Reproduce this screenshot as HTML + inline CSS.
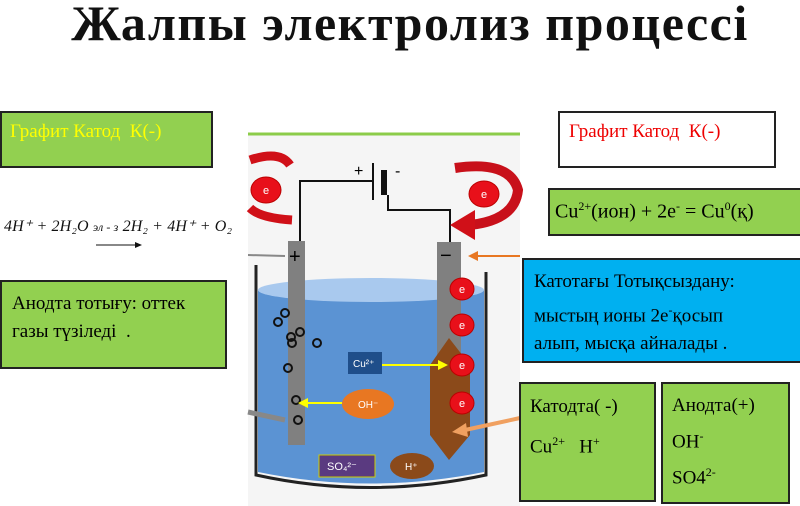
<!DOCTYPE html>
<html><head><meta charset="utf-8"><style>
body{margin:0;width:800px;height:506px;background:#fff;position:relative;overflow:hidden;font-family:"Liberation Serif",serif}
.b{position:absolute;box-sizing:border-box;border:2px solid #222;}
.g{background:#92d050}
sup{font-size:12px}
h1{position:absolute;left:0;width:820px;top:-6px;margin:0;text-align:center;font-size:50px;font-weight:bold;letter-spacing:1.5px;font-family:"Liberation Serif",serif;color:#111}
</style></head><body>
<h1>Жалпы электролиз процессі</h1>
<svg width="800" height="506" style="position:absolute;left:0;top:0">
<rect x="248" y="133" width="272" height="373" fill="#f5f5f5"/>
<line x1="248" y1="134" x2="520" y2="134" stroke="#8ccc4a" stroke-width="3"/>
<path d="M258 290 L484 290 L484 472 Q370 495 258 472 Z" fill="#5b93d3"/>
<ellipse cx="371" cy="290" rx="113" ry="12" fill="#a9c9ee"/>
<path d="M256 265 L256 475 Q370 500 486 475 L486 272" fill="none" stroke="#222" stroke-width="3"/>
<polyline points="300,241 300,181 372,181" fill="none" stroke="#111" stroke-width="2"/>
<polyline points="388,195 388,210 450,210 450,242" fill="none" stroke="#111" stroke-width="2"/>
<line x1="373" y1="163" x2="373" y2="200" stroke="#111" stroke-width="2"/>
<rect x="381" y="170" width="6" height="25" fill="#111"/>
<text x="354" y="176" font-size="16" font-family="Liberation Sans">+</text>
<text x="395" y="176" font-size="16" font-family="Liberation Sans">-</text>
<rect x="288" y="241" width="17" height="204" fill="#808080"/>
<text x="289" y="263" font-size="20" font-family="Liberation Sans">+</text>
<rect x="437" y="242" width="24" height="150" fill="#808080"/>
<text x="440" y="262" font-size="20" font-family="Liberation Sans">−</text>
<polygon points="449,338 470,365 470,435 449,460 430,435 430,365" fill="#8b4a1a"/>
<g fill="#e8101a" stroke="#b00" stroke-width="1">
<ellipse cx="462" cy="289" rx="12" ry="11"/><ellipse cx="462" cy="325" rx="12" ry="11"/>
<ellipse cx="462" cy="365" rx="12" ry="11"/><ellipse cx="462" cy="403" rx="12" ry="11"/>
<ellipse cx="266" cy="190" rx="15" ry="13"/><ellipse cx="484" cy="194" rx="15" ry="13"/></g>
<g fill="#fff" font-size="11" font-family="Liberation Sans" text-anchor="middle">
<text x="462" y="293">e</text><text x="462" y="329">e</text><text x="462" y="369">e</text><text x="462" y="407">e</text><text x="266" y="194">e</text><text x="484" y="198">e</text></g>
<path d="M250 160 Q280 150 290 165" fill="none" stroke="#d01018" stroke-width="9"/>
<path d="M250 208 Q260 218 292 220" fill="none" stroke="#d01018" stroke-width="9"/>
<path d="M455 168 Q510 160 518 190 Q515 220 470 225" fill="none" stroke="#c8101a" stroke-width="10"/>
<polygon points="450,225 475,210 475,240" fill="#d01018"/>
<g fill="none" stroke="#111" stroke-width="2">
<circle cx="285" cy="313" r="4"/><circle cx="278" cy="322" r="4"/><circle cx="300" cy="332" r="4"/><circle cx="291" cy="337" r="4"/><circle cx="292" cy="343" r="4"/><circle cx="317" cy="343" r="4"/><circle cx="288" cy="368" r="4"/><circle cx="296" cy="400" r="4"/><circle cx="298" cy="420" r="4"/></g>
<rect x="348" y="352" width="34" height="22" fill="#1f4e8a"/>
<text x="353" y="367" fill="#fff" font-size="10" font-family="Liberation Sans">Cu²⁺</text>
<line x1="382" y1="365" x2="440" y2="365" stroke="#ff0" stroke-width="2"/><polygon points="448,365 438,360 438,370" fill="#ff0"/>
<ellipse cx="368" cy="404" rx="26" ry="15" fill="#e87722"/>
<text x="358" y="408" fill="#fff" font-size="10" font-family="Liberation Sans">OH⁻</text>
<line x1="342" y1="403" x2="305" y2="403" stroke="#ff0" stroke-width="2"/><polygon points="298,403 308,398 308,408" fill="#ff0"/>
<rect x="319" y="455" width="56" height="22" fill="#5a3a80" stroke="#cc0"/>
<text x="327" y="470" fill="#fff" font-size="11" font-family="Liberation Sans">SO₄²⁻</text>
<ellipse cx="412" cy="466" rx="22" ry="13" fill="#8b4a1a"/>
<text x="405" y="470" fill="#fff" font-size="10" font-family="Liberation Sans">H⁺</text>
<line x1="520" y1="256" x2="475" y2="256" stroke="#e87722" stroke-width="2"/><polygon points="468,256 478,251 478,261" fill="#e87722"/>
<line x1="520" y1="418" x2="465" y2="430" stroke="#f0a060" stroke-width="4"/><polygon points="452,432 466,423 468,437" fill="#f0a060"/>
<line x1="248" y1="255" x2="285" y2="256" stroke="#888" stroke-width="2"/>
<line x1="248" y1="412" x2="285" y2="420" stroke="#888" stroke-width="5"/>
<g font-family="Liberation Serif" font-style="italic" font-size="16" fill="#111">
<text x="4" y="231" textLength="228">4H⁺ + 2H₂O  <tspan font-size="12">эл - з</tspan> 2H₂ + 4H⁺ + O₂</text></g>
<line x1="96" y1="245" x2="138" y2="245" stroke="#111" stroke-width="1"/><polygon points="142,245 135,242 135,248" fill="#111"/>
</svg>
<div class="b g" style="left:0;top:111px;width:213px;height:57px;color:#ff0;font-size:19px;padding:8px 0 0 8px">Графит Катод&nbsp; К(-)</div>
<div class="b g" style="left:0;top:280px;width:227px;height:89px;font-size:19px;padding:8px 0 0 10px;line-height:28px">Анодта тотығу: оттек<br>газы түзіледі&nbsp; .</div>
<div class="b" style="left:558px;top:111px;width:218px;height:57px;background:#fff;color:#e00;font-size:19px;padding:8px 0 0 9px">Графит Катод&nbsp; К(-)</div>
<div class="b g" style="left:548px;top:188px;width:254px;height:48px;font-size:20px;padding:9px 0 0 5px;white-space:nowrap">Cu<sup>2+</sup>(ион) + 2е<sup>-</sup> = Cu<sup>0</sup>(қ)</div>
<div class="b" style="left:522px;top:258px;width:280px;height:105px;background:#00b0f0;font-size:19px;padding:8px 0 0 10px;line-height:28px;white-space:nowrap">Катотағы Тотықсыздану:<br>мыстың ионы 2е<sup>-</sup>қосып<br>алып, мысқа айналады .</div>
<div class="b g" style="left:519px;top:382px;width:137px;height:120px;font-size:19px;padding:6px 0 0 9px;line-height:34px">Катодта( -)<br>Cu<sup>2+</sup>&nbsp;&nbsp; H<sup>+</sup></div>
<div class="b g" style="left:661px;top:382px;width:129px;height:122px;font-size:19px;padding:6px 0 0 9px;line-height:31px">Анодта(+)<br>OH<sup>-</sup><br>SO4<sup>2-</sup></div>
</body></html>
